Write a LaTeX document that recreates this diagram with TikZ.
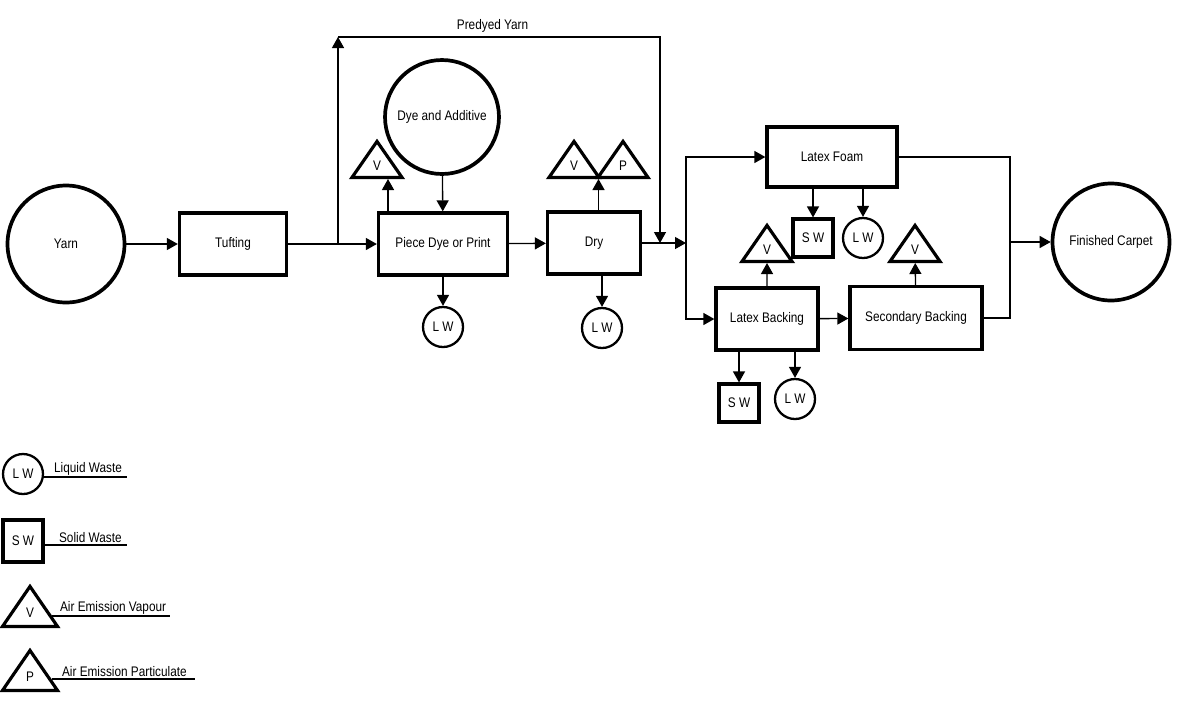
\documentclass[tikz,border=0pt]{standalone}
\usepackage{fontspec}
\setmainfont[FakeStretch=0.85]{Liberation Sans}
\usepackage{tikz}
\usetikzlibrary{arrows.meta,shapes.geometric,calc}

\begin{document}
\begin{tikzpicture}[x=0.02cm,y=-0.02cm,font=\fontsize{7.9}{9}\selectfont]
\tikzstyle{proc}=[draw,line width=1.9pt,minimum height=1.24cm,inner sep=0pt]
\tikzstyle{source}=[draw,circle,line width=2.1pt,minimum size=2.34cm,inner sep=0pt]
\tikzstyle{lw}=[draw,circle,line width=1.3pt,minimum size=0.8cm,inner sep=0pt]
\tikzstyle{sw}=[draw,rectangle,line width=1.8pt,minimum width=0.8cm,minimum height=0.76cm,inner sep=0pt]
\tikzstyle{emis}=[draw,isosceles triangle,shape border rotate=90,isosceles triangle stretches,line width=1.8pt,minimum width=1.0cm,minimum height=0.72cm,inner sep=1pt,anchor=south]
\tikzstyle{line}=[line width=0.75pt]
\tikzstyle{flow}=[line,-{Triangle[length=0.22cm,width=0.24cm]}]
\useasboundingbox (0,0) rectangle (1185,707);

% main line
\node[source] (yarn) at (66,244) {Yarn};
\node[proc, minimum width=2.14cm] (tuft) at (233,244) {Tufting};
\node[proc, minimum width=2.58cm] (pdye) at (443,244) {Piece Dye or Print};
\node[source, minimum size=2.28cm] (dyeadd) at (442,117) {Dye and Additive};
\node[proc, minimum width=1.86cm] (dry) at (594,243) {Dry};
\node[proc, minimum width=2.6cm, minimum height=1.2cm] (foam) at (832,157) {Latex Foam};
\node[proc, minimum width=2.04cm] (lback) at (767,319) {Latex Backing};
\node[proc, minimum width=2.64cm, minimum height=1.26cm] (sback) at (916,318) {Secondary Backing};
\node[source] (carpet) at (1111,242) {Finished Carpet};

% emissions and wastes
\node[emis] (v1) at (377,179) {V};
\node[emis] (v2) at (574,179) {V};
\node[emis] (p1) at (623,179) {P};
\node[emis] (v3) at (767,263) {V};
\node[emis] (v4) at (915,263) {V};
\node[lw] (lw1) at (443,327) {L W};
\node[lw] (lw2) at (602,328) {L W};
\node[sw] (sw1) at (813,238) {S W};
\node[lw] (lw3) at (863,238) {L W};
\node[sw] (sw2) at (739,403) {S W};
\node[lw] (lw4) at (795,399) {L W};

\coordinate (split) at (338,244);
\coordinate (top) at (338,37);
\coordinate (topr) at (660,37);
\coordinate (join) at (660,243);
\coordinate (branch) at (686,243);
\coordinate (merge) at (1010,242);
\coordinate (vp) at ($(v2.south)!0.5!(p1.south)$);

\draw[flow] (yarn) -- (tuft);
\draw[flow] (tuft) -- (pdye);
\draw[flow] (split) -- (top);
\draw[flow] (top) -- (topr)node[draw=none,pos=0.48,above,inner sep=2pt] {Predyed Yarn} -- (join);
\draw[flow] (dyeadd) -- (pdye);
\draw[flow] ([xshift=0.22cm]v1.south |- pdye.north) -- ([xshift=0.22cm]v1.south);
\draw[flow] (pdye) -- (dry);
\draw[flow] (pdye) -- (lw1);
\draw[flow] (dry.north -| vp) -- (vp);
\draw[flow] (dry.south -| lw2) -- (lw2);
\draw[flow] (dry) -- (branch);
\draw[flow] (branch) |- (foam);
\draw[flow] (branch) |- (lback);
\draw[flow] (foam.south -| sw1) -- (sw1);
\draw[flow] (foam.south -| lw3) -- (lw3);
\draw[flow] (lback) -- (v3);
\draw[flow] (lback.south -| sw2) -- (sw2);
\draw[flow] (lback.south -| lw4) -- (lw4);
\draw[flow] (lback) -- (sback);
\draw[flow] (sback) -- (v4);
\draw[line] (foam) -| (merge);
\draw[line] (sback) -| (merge);
\draw[flow] (merge) -- (carpet);

% legend
\node[lw] (klw) at (23,474) {L W};
\node[anchor=south west,inner sep=1pt] (tlw) at (52,477) {Liquid Waste};
\draw[line] (klw.east |- tlw.south) -- ([xshift=0.06cm]tlw.south east);
\node[sw, minimum height=0.84cm] (ksw) at (23,541) {S W};
\node[anchor=south west,inner sep=1pt] (tsw) at (57,545) {Solid Waste};
\draw[line] (ksw.east |- tsw.south) -- ([xshift=0.06cm]tsw.south east);
\node[emis, minimum width=1.1cm, minimum height=0.8cm] (kv) at (30,628) {V};
\node[anchor=south west,inner sep=1pt] (tv) at (58,616) {Air Emission Vapour};
\draw[line] ([xshift=-0.12cm]tv.south west) -- ([xshift=0.04cm]tv.south east);
\node[emis, minimum width=1.1cm, minimum height=0.8cm] (kp) at (30,692) {P};
\node[anchor=south west,inner sep=1pt] (tp) at (60,679) {Air Emission Particulate};
\draw[line] ([xshift=-0.16cm]tp.south west) -- ([xshift=0.12cm]tp.south east);
\end{tikzpicture}
\end{document}
